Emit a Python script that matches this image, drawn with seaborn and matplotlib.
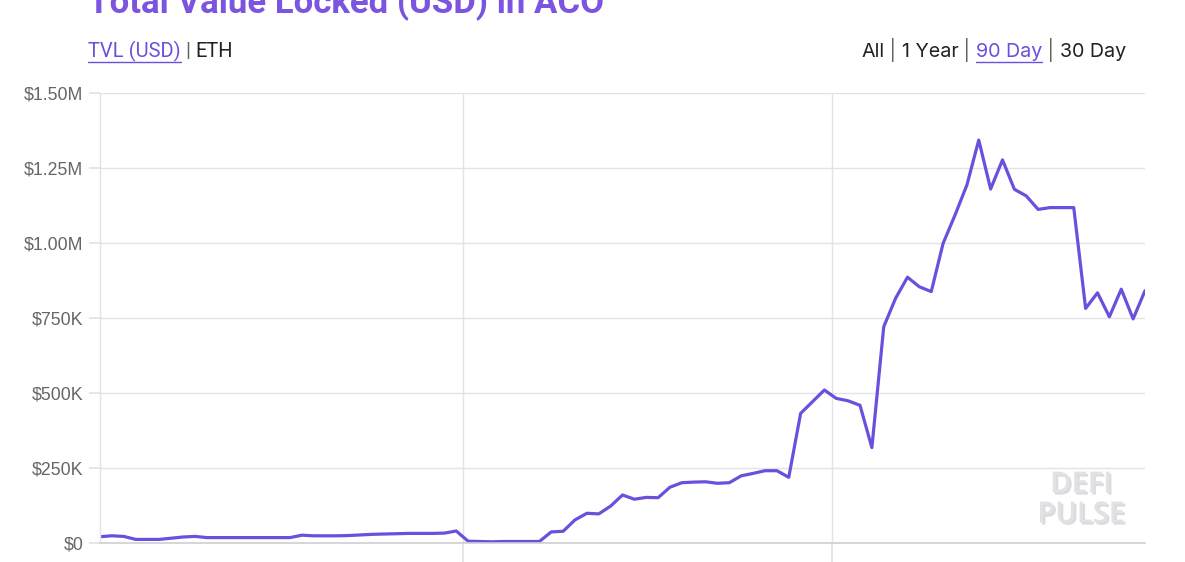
import numpy as np
import pandas as pd
import matplotlib.pyplot as plt
import seaborn as sns
from matplotlib.lines import Line2D
import matplotlib.patheffects as pe

# ---------------------- DATA ----------------------
# daily TVL in USD, last 89 days
tvl_k = [
    21, 24, 22, 12, 12, 12, 16, 20, 22, 18,
    18, 18, 18, 18, 18, 18, 18, 26, 24, 24,
    24, 25, 27, 29, 30, 31, 32, 32, 32, 33,
    40, 6, 5, 4, 5, 5, 5, 5, 37, 39,
    77, 99, 97, 123, 160, 146, 152, 151, 186, 201,
    203, 204, 199, 201, 224, 232, 241, 241, 219, 432,
    471, 510, 482, 474, 459, 318, 721, 816, 886, 854,
    838, 999, 1093, 1193, 1343, 1180, 1277, 1179, 1157, 1112,
    1118, 1118, 1118, 782, 834, 754, 846, 747, 841,
]
day = list(range(len(tvl_k)))
month_marks = [30.6, 61.6]   # month boundaries (vertical grid lines)
y_ticks = [0, 250000, 500000, 750000, 1000000, 1250000, 1500000]
y_labels = ['$0', '$250K', '$500K', '$750K', '$1.00M', '$1.25M', '$1.50M']

df = pd.DataFrame({'day': day, 'tvl': [v * 1000 for v in tvl_k]})

# ---------------------- STYLE ----------------------
sns.set_theme(style="white")
plt.rcParams['font.family'] = ['Liberation Sans', 'DejaVu Sans']

purple = '#6c4fdc'
grid_c = '#e3e3e6'

fig = plt.figure(figsize=(11.85, 5.62), dpi=100)
ax = fig.add_axes([100 / 1185, 1 - 543 / 562, 1045 / 1185, 450 / 562])

sns.lineplot(data=df, x='day', y='tvl', ax=ax, color=purple, linewidth=2.3)

ax.set_xlim(0, len(tvl_k) - 1)
ax.set_ylim(0, 1500000)
ax.set_yticks(y_ticks)
ax.set_yticklabels(y_labels)
ax.set_xticks(month_marks)
ax.set_xticklabels([])
ax.set_xlabel('')
ax.set_ylabel('')

ax.grid(axis='y', color=grid_c, linewidth=1)
for m in month_marks:
    ax.axvline(m, color=grid_c, linewidth=1, zorder=0)
ax.tick_params(axis='y', length=8, color=grid_c, labelsize=12.8,
               labelcolor='#666666', pad=4, left=True)
ax.tick_params(axis='x', length=20, color=grid_c, bottom=True)

for s in ['top', 'right']:
    ax.spines[s].set_visible(False)
ax.spines['left'].set_color(grid_c)
ax.spines['bottom'].set_color('#cfcfd3')
ax.spines['left'].set_linewidth(1)
ax.spines['bottom'].set_linewidth(1.2)

# ---------------------- HEADER ----------------------
fig.text(88 / 1185, 1 - 13 / 562, 'Total Value Locked (USD) in ACO',
         fontsize=25, weight='bold', color='#7b55e0', family='Roboto',
         va='baseline')

sep_c = '#5a6a5a'
left_parts = [('TVL (USD)', purple, True), (' | ', sep_c, False),
              ('ETH', '#222222', False)]
right_parts = [('All', '#222222', False), (' | ', sep_c, False),
               ('1 Year', '#222222', False), (' | ', sep_c, False),
               ('90 Day', purple, True), (' | ', sep_c, False),
               ('30 Day', '#222222', False)]

fig.canvas.draw()
renderer = fig.canvas.get_renderer()


def draw_parts(parts, x0, y0, family, size):
    x = x0
    for txt, col, under in parts:
        t = fig.text(x, y0, txt, fontsize=size, color=col, family=family,
                     va='baseline')
        bb = t.get_window_extent(renderer=renderer)
        w = bb.width / fig.bbox.width
        if under:
            yl = y0 - 5 / 562
            fig.add_artist(Line2D([x, x + w], [yl, yl], color=col,
                                  linewidth=1, transform=fig.transFigure))
        x += w
    return x


draw_parts(left_parts, 88 / 1185, 1 - 57 / 562, 'Roboto', 14.5)

# right-aligned block: measure first
tmp = 0
for txt, col, under in right_parts:
    t = fig.text(0, 0, txt, fontsize=14.2, family='Inter')
    tmp += t.get_window_extent(renderer=renderer).width
    t.remove()
draw_parts(right_parts, 1126 / 1185 - tmp / fig.bbox.width, 1 - 57 / 562,
           'Inter', 14.2)

# ---------------------- WATERMARK ----------------------
for line, yy in [('DEFI', 485), ('PULSE', 515)]:
    fig.text(1081 / 1185, 1 - yy / 562, line, fontsize=21, weight='semibold',
             color='#e2e2e6', family='Open Sans', ha='center', va='center',
             path_effects=[pe.withSimplePatchShadow(offset=(1.5, -1.5),
                                                    shadow_rgbFace='#c4c4c8',
                                                    alpha=0.6)])

fig.savefig('out.png', dpi=100)
